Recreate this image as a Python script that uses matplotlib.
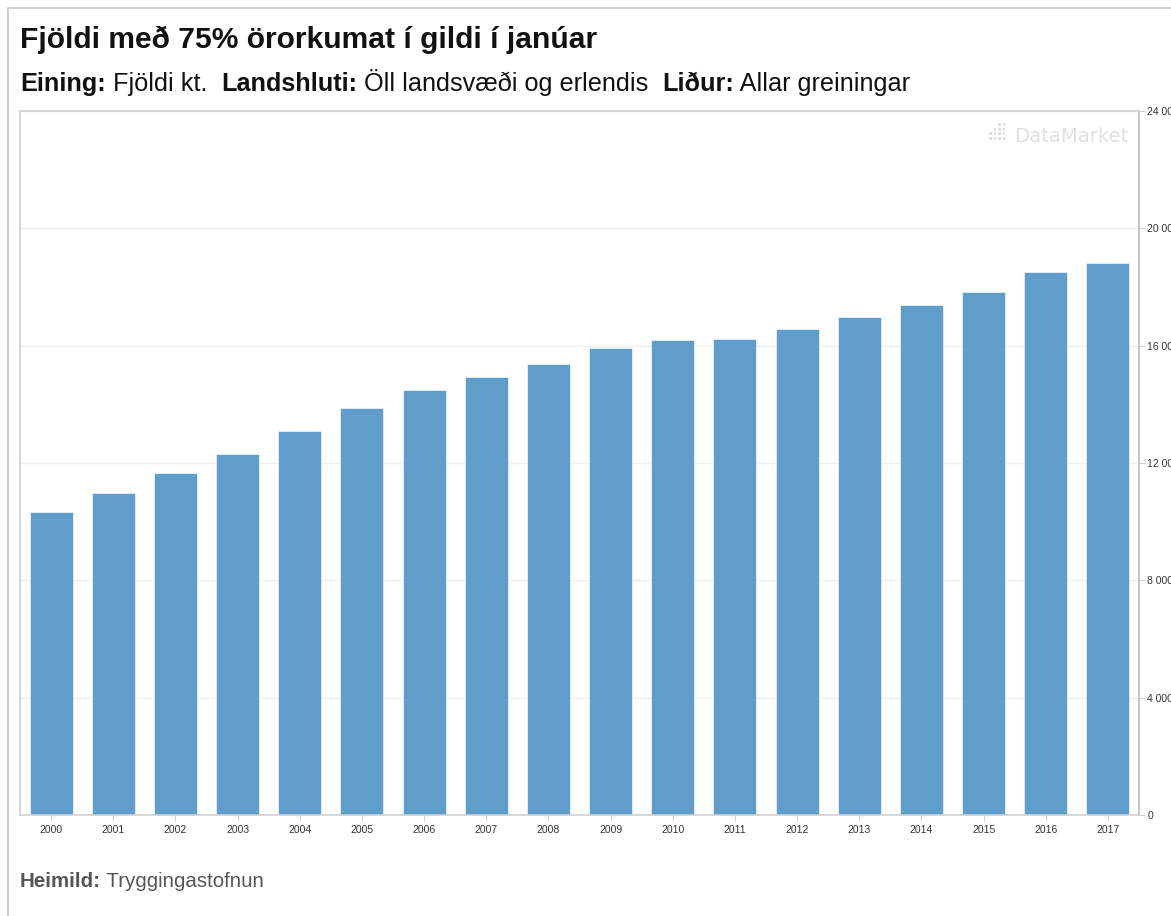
import matplotlib.pyplot as plt
from matplotlib.patches import Rectangle
from matplotlib.ticker import FuncFormatter

plt.rcParams["font.family"] = ["Liberation Sans", "DejaVu Sans"]

years = [str(y) for y in range(2000, 2018)]
counts = [10330, 10980, 11660, 12310, 13090, 13880, 14490, 14930, 15380,
          15920, 16190, 16230, 16570, 16980, 17390, 17830, 18510, 18820]
y_ticks = [0, 4000, 8000, 12000, 16000, 20000, 24000]

BAR = "#5f9dca"
W, H = 1171, 916

fig = plt.figure(figsize=(W / 100, H / 100), dpi=100)
fig.patch.set_facecolor("white")

# outer frame (left and top edges visible)
fig.add_artist(Rectangle((8 / W, -0.1), 1.2, (H - 8) / H + 0.1, transform=fig.transFigure,
                         fill=False, edgecolor="#c8c8c8", linewidth=1.2))

ax = fig.add_axes([20 / W, 1 - 815 / H, 1119 / W, 704 / H])
x = list(range(len(years)))
ax.bar(x, counts, width=0.69, color=BAR, edgecolor="#e8f1f8", linewidth=0.6, zorder=2)
ax.set_xlim(-0.5, len(years) - 0.5)
ax.set_ylim(0, 24000)
ax.set_xticks(x)
ax.set_xticklabels(years)
ax.set_yticks(y_ticks)
ax.yaxis.set_major_formatter(FuncFormatter(lambda v, p: f"{int(v):,}".replace(",", " ")))
ax.yaxis.tick_right()
ax.grid(axis="y", color="#eeeeee", linewidth=1, zorder=0)
for s in ax.spines.values():
    s.set_color("#cfcfcf")
    s.set_linewidth(1.2)
ax.spines["right"].set_color("#bdbdbd")
ax.tick_params(axis="x", length=4, color="#cfcfcf", labelsize=7.5, labelcolor="#333333", pad=3)
ax.tick_params(axis="y", length=4, color="#cfcfcf", labelsize=7.5, labelcolor="#333333", pad=2)

# DataMarket watermark: dot logo + word
for i in range(4):
    for j in range(4):
        if i + j < 2:
            continue
        fig.add_artist(Rectangle(((989 + i * 4.5) / W, 1 - (126 + j * 4.5) / H), 2.8 / W, 2.8 / H,
                                 transform=fig.transFigure, color="#e0e0e0", lw=0))
fig.text(1129 / W, 1 - 137 / H, "DataMarket", ha="right", va="center",
         fontsize=14.2, color="#e0e0e0", family="DejaVu Sans")

fig.text(20 / W, 1 - 48 / H, "Fjöldi með 75% örorkumat í gildi í janúar",
         fontsize=21.6, fontweight="bold", va="baseline", color="#111111")

sub = [("Eining:", True), (" Fjöldi kt.  ", False), ("Landshluti:", True),
       (" Öll landsvæði og erlendis  ", False), ("Liður:", True), (" Allar greiningar", False)]
renderer = fig.canvas.get_renderer()
xpos = 20 / W
for txt, bold in sub:
    t = fig.text(xpos, 1 - 91 / H, txt, fontsize=18.2, va="baseline", color="#111111",
                 fontweight="bold" if bold else "normal")
    bb = t.get_window_extent(renderer=renderer)
    xpos += bb.width / W

xpos = 20 / W
for txt, bold in [("Heimild:", True), (" Tryggingastofnun", False)]:
    t = fig.text(xpos, 1 - 887 / H, txt, fontsize=14.8, va="baseline", color="#555555",
                 fontweight="bold" if bold else "normal")
    bb = t.get_window_extent(renderer=renderer)
    xpos += bb.width / W

fig.savefig("out.png", dpi=100, facecolor="white")
